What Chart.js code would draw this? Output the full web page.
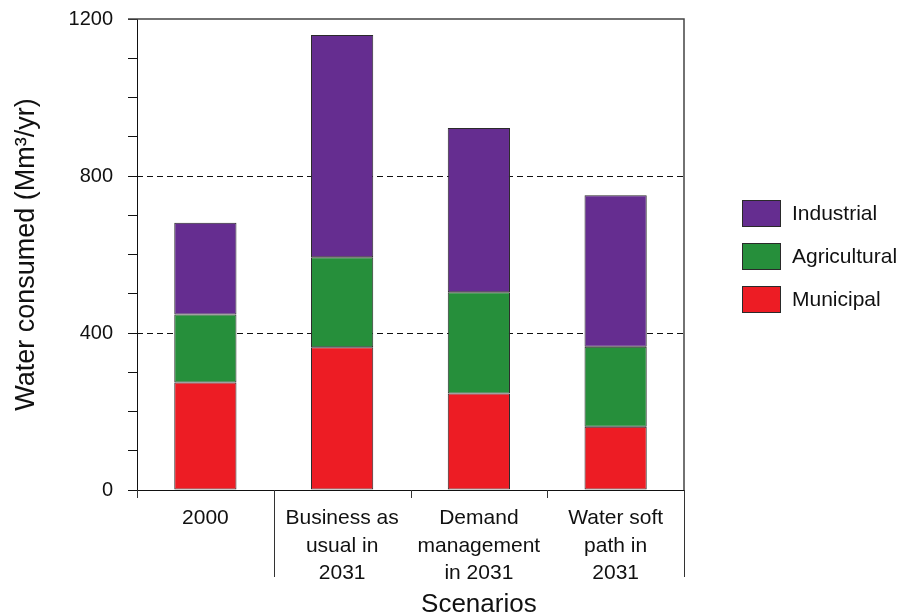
<!DOCTYPE html>
<html>
<head>
<meta charset="utf-8">
<script src="https://cdn.jsdelivr.net/npm/chart.js@4/dist/chart.umd.min.js"></script>
<style>
  html, body { margin: 0; padding: 0; background: #ffffff; }
  #wrap { width: 898px; height: 614px; position: relative; }
</style>
</head>
<body>
<div id="wrap"><canvas id="chart" width="898" height="614"></canvas></div>
<script>
// Scenario categories (multi-line tick labels)
const categories = [
  ['2000'],
  ['Business as', 'usual in', '2031'],
  ['Demand', 'management', 'in 2031'],
  ['Water soft', 'path in', '2031']
];

// Water consumed by sector, Mm³/yr (stacked bottom to top)
const municipal    = [274, 364, 246, 161];
const agricultural = [173, 229, 258, 204];
const industrial   = [234, 566, 418, 386];

// Y axis range and labelled values
const yMin = 0;
const yMax = 1200;
const yStep = 100;
const yLabelEvery = 400;
const dashedLevels = [400, 800];

const yTitle = 'Water consumed (Mm³/yr)';
const xTitle = 'Scenarios';

const FONT = '"Liberation Sans", Arial, Helvetica, sans-serif';

// Dashed reference lines, frame, category separators, x title and legend
const decorations = {
  id: 'decorations',
  beforeDatasetsDraw(chart) {
    const { ctx, chartArea: a, scales: { y } } = chart;
    ctx.save();
    ctx.strokeStyle = '#111';
    ctx.lineWidth = 1;
    ctx.setLineDash([6, 4]);
    dashedLevels.forEach(v => {
      const py = Math.round(y.getPixelForValue(v)) + 0.5;
      ctx.beginPath();
      ctx.moveTo(a.left, py);
      ctx.lineTo(a.right, py);
      ctx.stroke();
    });
    ctx.restore();
  },
  afterDraw(chart) {
    const { ctx, chartArea: a } = chart;
    ctx.save();
    // top and right frame
    ctx.strokeStyle = '#444';
    ctx.lineWidth = 1.5;
    ctx.beginPath();
    ctx.moveTo(a.left - 9, a.top);
    ctx.lineTo(a.right, a.top);
    ctx.lineTo(a.right, a.bottom);
    ctx.stroke();

    // category separators below the axis
    const n = categories.length;
    const cw = (a.right - a.left) / n;
    ctx.strokeStyle = '#333';
    ctx.lineWidth = 1;
    for (let i = 0; i <= n; i++) {
      const px = Math.round(a.left + i * cw) + 0.5;
      const long = (i === 1 || i === n);
      ctx.beginPath();
      ctx.moveTo(px, a.bottom);
      ctx.lineTo(px, long ? a.bottom + 87 : a.bottom + 8);
      ctx.stroke();
    }

    // x title centred under the scenario group
    const gx0 = a.left + cw;
    const gx1 = a.right;
    ctx.fillStyle = '#111';
    ctx.font = '26px ' + FONT;
    ctx.textAlign = 'center';
    ctx.textBaseline = 'alphabetic';
    ctx.fillText(xTitle, (gx0 + gx1) / 2, 612);

    // legend, top entry is the top of the stack
    const ds = chart.data.datasets.slice().reverse();
    const bx = a.right + 58;
    const by = 200;
    const gap = 43;
    ctx.font = '21px ' + FONT;
    ctx.textAlign = 'left';
    ctx.textBaseline = 'middle';
    ds.forEach((d, i) => {
      const top = by + i * gap;
      ctx.fillStyle = d.backgroundColor;
      ctx.fillRect(bx, top, 39, 26);
      ctx.strokeStyle = '#2a2a2a';
      ctx.lineWidth = 1;
      ctx.strokeRect(bx + 0.5, top + 0.5, 38, 26);
      ctx.fillStyle = '#111';
      ctx.fillText(d.label, bx + 50, top + 14);
    });
    ctx.restore();
  }
};

const barStyle = {
  borderColor: '#2a2a2a',
  borderWidth: 1,
  borderSkipped: false,
  categoryPercentage: 1.0,
  barPercentage: 0.455
};

new Chart(document.getElementById('chart'), {
  type: 'bar',
  data: {
    labels: categories,
    datasets: [
      Object.assign({ label: 'Municipal',    data: municipal,    backgroundColor: '#ED1C24' }, barStyle),
      Object.assign({ label: 'Agricultural', data: agricultural, backgroundColor: '#268F3B' }, barStyle),
      Object.assign({ label: 'Industrial',   data: industrial,   backgroundColor: '#652D90' }, barStyle)
    ]
  },
  options: {
    responsive: false,
    animation: false,
    devicePixelRatio: 1,
    layout: { padding: { left: 0, right: 214, top: 19, bottom: 0 } },
    plugins: {
      legend: { display: false },
      tooltip: { enabled: false }
    },
    scales: {
      x: {
        stacked: true,
        grid: { display: false, drawTicks: true, tickLength: 8 },
        border: { display: true, color: '#111', width: 1 },
        ticks: {
          color: '#111',
          padding: 7,
          maxRotation: 0,
          autoSkip: false,
          font: { family: FONT, size: 21, lineHeight: 1.3 }
        },
        afterFit(scale) {
          scale.height = 124;
          scale.paddingLeft = 0;
          scale.paddingRight = 0;
        }
      },
      y: {
        stacked: true,
        min: yMin,
        max: yMax,
        grid: { drawOnChartArea: false, drawTicks: true, tickLength: 9, color: '#111', lineWidth: 1 },
        border: { display: true, color: '#111', width: 1 },
        ticks: {
          stepSize: yStep,
          color: '#111',
          padding: 15,
          autoSkip: false,
          font: { family: FONT, size: 20 },
          callback: v => (v % yLabelEvery === 0 ? String(v) : '')
        },
        title: {
          display: true,
          text: yTitle,
          color: '#111',
          font: { family: FONT, size: 27 },
          padding: { top: 10 }
        },
        afterFit(scale) {
          scale.width = 137;
          scale.paddingTop = 0;
          scale.paddingBottom = 0;
        }
      }
    }
  },
  plugins: [decorations]
});
</script>
</body>
</html>
